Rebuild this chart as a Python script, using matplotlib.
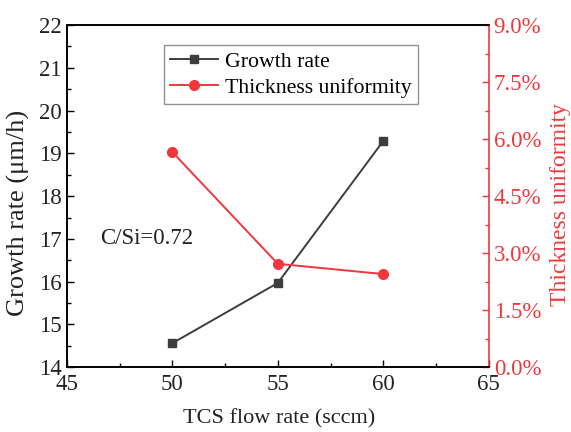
import matplotlib
matplotlib.use("Agg")
import matplotlib.pyplot as plt
from matplotlib.ticker import MultipleLocator, FuncFormatter

flow = [50, 55, 60]
growth_rate = [14.56, 15.97, 19.29]
uniformity = [5.66, 2.72, 2.45]  # percent

plt.rcParams['font.family'] = ['Liberation Serif', 'DejaVu Serif']

fig = plt.figure(figsize=(5.71, 4.32), dpi=100)
ax = fig.add_axes([0.117, 0.150, 0.739, 0.792])
ax2 = ax.twinx()

black = '#3d3d3d'
red = '#f0383c'
txt = '#222222'

l1, = ax.plot(flow, growth_rate, color=black, marker='s', markersize=6, lw=1.4, label='Growth rate')
l2, = ax2.plot(flow, uniformity, color=red, marker='o', markersize=7, lw=1.4, label='Thickness uniformity')

ax.set_xlim(45, 65)
ax.set_ylim(14, 22)
ax2.set_ylim(0, 9)

ax.xaxis.set_major_locator(MultipleLocator(5))
ax.xaxis.set_minor_locator(MultipleLocator(2.5))
ax.yaxis.set_major_locator(MultipleLocator(1))
ax.yaxis.set_minor_locator(MultipleLocator(0.5))
ax2.yaxis.set_major_locator(MultipleLocator(1.5))
ax2.yaxis.set_minor_locator(MultipleLocator(0.75))
ax2.yaxis.set_major_formatter(FuncFormatter(lambda v, p: f"{v:.1f}%"))

ax.tick_params(axis='both', which='both', direction='in', labelsize=16.5, top=False, right=False,
               colors='black', labelcolor=txt)
ax.tick_params(which='major', length=5, width=1)
ax.tick_params(which='minor', length=3, width=1)
ax.tick_params(axis='x', pad=5)
ax2.tick_params(axis='y', which='both', direction='in', colors=red, labelsize=16.5, labelcolor=red)
ax2.tick_params(which='major', length=5, width=1)
ax2.tick_params(which='minor', length=3, width=1)

for s in ['left', 'bottom', 'top']:
    ax.spines[s].set_linewidth(1.2)
    ax2.spines[s].set_linewidth(1.2)
ax2.spines['right'].set_color(red)
ax2.spines['right'].set_linewidth(1.2)
ax.spines['right'].set_visible(False)

ax.set_xlabel('TCS flow rate (sccm)', fontsize=16, color=txt)
ax.xaxis.set_label_coords(0.502, -0.122)
ax.set_ylabel('Growth rate (μm/h)', fontsize=19, color=txt)
ax.yaxis.set_label_coords(-0.088, 0.45)
ax2.set_ylabel('Thickness uniformity', fontsize=17, color=red)
ax2.yaxis.set_label_coords(1.145, 0.475)

ax.text(46.6, 17.02, 'C/Si=0.72', fontsize=16.5, color=txt, ha='left', va='center')

leg = ax.legend(handles=[l1, l2], loc='upper left', bbox_to_anchor=(0.23, 0.9415),
                fontsize=15.7, frameon=True, fancybox=False, edgecolor='#777777',
                handlelength=2.2, handletextpad=0.3, borderpad=0.3, labelspacing=0.25,
                borderaxespad=0)
leg.get_frame().set_linewidth(1.0)

fig.savefig('out.png', dpi=100)
